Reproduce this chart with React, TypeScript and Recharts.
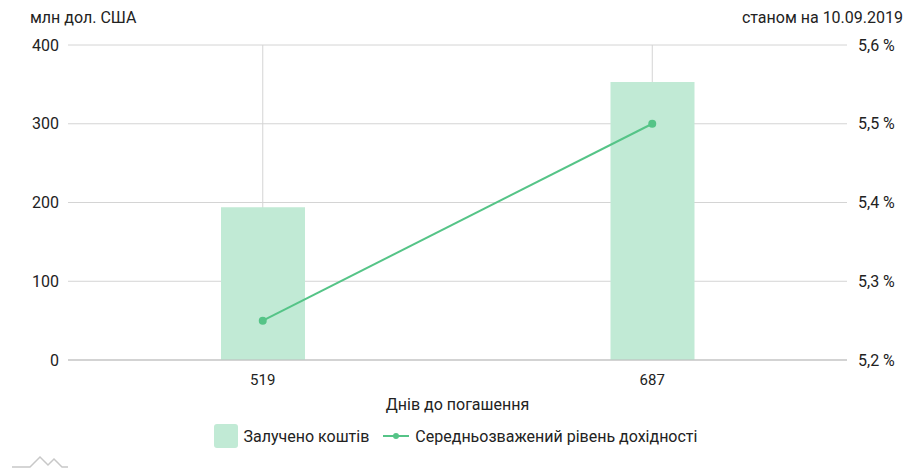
import React from "react";
import {
  ComposedChart,
  Bar,
  Line,
  XAxis,
  YAxis,
  CartesianGrid,
  Legend,
} from "recharts";

// --- Data ---
const days = ["519", "687"];
const raised = [194, 353]; // млн дол. США
const avgYield = [5.25, 5.5]; // %

const leftTicks = [0, 100, 200, 300, 400];
const rightTicks = [5.2, 5.3, 5.4, 5.5, 5.6];

const chartData = days.map((d, i) => ({
  day: d,
  raised: raised[i],
  yield: avgYield[i],
}));

const BAR_COLOR = "#c1ead5";
const LINE_COLOR = "#55c487";
const GRID = "#d4d4d4";
const TEXT = "#222";
const FONT = "Roboto, 'Noto Sans', sans-serif";

// vertical grid only at category centres (no lines on the plot edges)
const centreLines = ({ offset }: any) => {
  const step = offset.width / days.length;
  return days.map((_, i) => offset.left + step * (i + 0.5));
};

const LegendContent = () => (
  <div
    style={{
      display: "flex",
      justifyContent: "center",
      alignItems: "center",
      gap: 14,
      fontSize: 16,
      color: TEXT,
      fontFamily: FONT,
      paddingTop: 4,
    }}
  >
    <div style={{ display: "flex", alignItems: "center", gap: 6 }}>
      <span
        style={{
          width: 24,
          height: 24,
          borderRadius: 3,
          background: BAR_COLOR,
          display: "inline-block",
        }}
      />
      <span>Залучено коштів</span>
    </div>
    <div style={{ display: "flex", alignItems: "center", gap: 6 }}>
      <svg width={26} height={10}>
        <line x1={0} y1={5} x2={26} y2={5} stroke={LINE_COLOR} strokeWidth={2} />
        <circle cx={13} cy={5} r={3} fill={LINE_COLOR} />
      </svg>
      <span>Середньозважений рівень дохідності</span>
    </div>
  </div>
);

export default function App() {
  return (
    <div
      style={{
        position: "absolute",
        left: 0,
        top: 0,
        width: 911,
        height: 468,
        background: "#fff",
        fontFamily: FONT,
        overflow: "hidden",
      }}
    >
      {/* top captions */}
      <div style={{ position: "absolute", left: 30, top: 8, fontSize: 16, color: TEXT }}>
        млн дол. США
      </div>
      <div style={{ position: "absolute", right: 8, top: 8, fontSize: 16, color: TEXT }}>
        станом на 10.09.2019
      </div>

      <ComposedChart
        width={911}
        height={468}
        data={chartData}
        margin={{ top: 45, right: 0, bottom: 0, left: 0 }}
      >
        <CartesianGrid
          yAxisId="left"
          stroke={GRID}
          verticalCoordinatesGenerator={centreLines}
        />
        <XAxis
          dataKey="day"
          height={60}
          tickLine={false}
          axisLine={{ stroke: "#bdbdbd" }}
          tickMargin={8}
          tick={{ fontSize: 15, fill: TEXT }}
          label={{
            value: "Днів до погашення",
            position: "insideBottom",
            offset: 10,
            fontSize: 16,
            fill: TEXT,
          }}
        />
        <YAxis
          yAxisId="left"
          domain={[0, 400]}
          ticks={leftTicks}
          width={68}
          tickLine={false}
          axisLine={false}
          tickMargin={3}
          tick={{ fontSize: 16, fill: TEXT }}
        />
        <YAxis
          yAxisId="right"
          orientation="right"
          domain={[5.2, 5.6]}
          ticks={rightTicks}
          width={64}
          tickLine={false}
          axisLine={false}
          tickMargin={5}
          tick={{ fontSize: 16, fill: TEXT }}
          tickFormatter={(v: number) => `${v.toFixed(1).replace(".", ",")} %`}
        />
        <Legend
          verticalAlign="bottom"
          wrapperStyle={{ height: 48 }}
          content={<LegendContent />}
        />
        <Bar
          yAxisId="left"
          dataKey="raised"
          fill={BAR_COLOR}
          barSize={84}
          isAnimationActive={false}
        />
        <Line
          yAxisId="right"
          dataKey="yield"
          stroke={LINE_COLOR}
          strokeWidth={2}
          dot={{ r: 3, fill: LINE_COLOR, stroke: LINE_COLOR }}
          isAnimationActive={false}
        />
      </ComposedChart>

      {/* faint logo */}
      <svg style={{ position: "absolute", left: 10, top: 450 }} width={60} height={18}>
        <path
          d="M2 17 L20 17 L30 7 L38 15 L44 9 L52 17 L58 17"
          fill="none"
          stroke="#c8c8c8"
          strokeWidth={1.5}
        />
      </svg>
    </div>
  );
}
